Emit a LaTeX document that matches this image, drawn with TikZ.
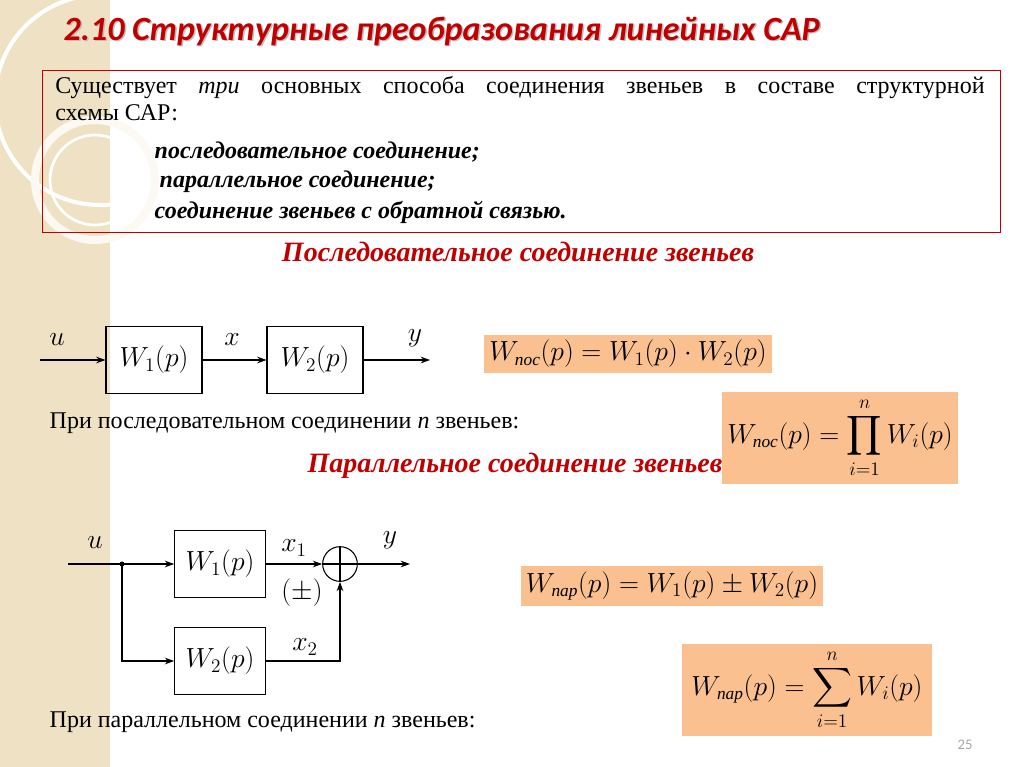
\documentclass[tikz,border=0pt]{standalone}
\usepackage{exscale}
\usepackage{fontspec}
\setmainfont{Liberation Serif}
\newfontfamily\titlefont{Carlito}
\usetikzlibrary{arrows.meta}
\definecolor{tred}{HTML}{C00000}
\definecolor{beige}{HTML}{EFE2C4}
\definecolor{formbg}{HTML}{FAC090}
\newcommand{\sub}[1]{\mbox{\fontsize{13}{13}\selectfont\itshape #1}}
\begin{document}
\begin{tikzpicture}[x=0.75pt,y=-0.75pt,
  blk/.style={draw,thick,minimum width=72pt,minimum height=50pt,inner sep=0pt,font=\fontsize{20.5}{20.5}\selectfont},
  form/.style={fill=formbg,inner sep=4pt,font=\fontsize{19.5}{19.5}\selectfont},
  lab/.style={font=\fontsize{20}{20}\selectfont\itshape},
  body/.style={font=\fontsize{18}{20}\selectfont,anchor=west},
  head/.style={font=\fontsize{21}{21}\selectfont\bfseries\itshape,text=tred},
  arr/.style={-{Stealth[length=7pt,width=5pt]},thick}]
\useasboundingbox (0,0) rectangle (1024,767);
% background strip
\fill[beige] (0,0) rectangle (110,767);
\draw[white,line width=3pt] (100,100) circle (105);
\draw[white!80!beige,line width=6pt] (95,180) circle (60);
\draw[white,line width=2pt] (95,180) circle (45);
% title
\node[anchor=west,font=\titlefont\fontsize{25.5}{25.5}\selectfont\bfseries\itshape,text=black!25] (ts) at (60.5,32.5) {2.10 Структурные преобразования линейных САР};
\node[anchor=west,font=\titlefont\fontsize{25.5}{25.5}\selectfont\bfseries\itshape,text=tred] (t) at (59,31) {2.10 Структурные преобразования линейных САР};
% red box
\draw[tred] (42,70) rectangle (1000,232);
\node[body,anchor=north west,text width=697pt,align=justify,inner sep=0pt] (p1) at (55,76) {Существует \textit{три} основных способа соединения звеньев в составе структурной\linebreak схемы САР:};
\node[body,font=\fontsize{18}{20}\selectfont\bfseries\itshape] (l1) at (150,152) {последовательное соединение;};
\node[body,font=\fontsize{18}{20}\selectfont\bfseries\itshape] (l2) at (155,182) {параллельное соединение;};
\node[body,font=\fontsize{18}{20}\selectfont\bfseries\itshape] (l3) at (150,212) {соединение звеньев с обратной связью.};
\node[head] (h1) at (518,252) {Последовательное соединение звеньев};
% series diagram
\node[blk] (a1) at (154,360) {$W_1(p)$};
\node[blk] (a2) at (315,360) {$W_2(p)$};
\coordinate (ain) at (40,360);
\coordinate (aout) at (430,360);
\draw[arr] (ain) -- (a1);
\draw[arr] (a1) -- (a2);
\draw[arr] (a2) -- (aout);
\node[lab] (u1) at (57,340) {$u$};
\node[lab] (x1) at (232,340) {$x$};
\node[lab] (y1) at (415,338) {$y$};
\node[form] (f1) at (628,354) {$W_{\sub{пос}}(p)=W_1(p)\cdot W_2(p)$};
\node[body] (t1) at (45,423) {При последовательном соединении \textit{n} звеньев:};
\node[form,minimum height=66pt,minimum width=170pt] (f2) at (840,438) {$\displaystyle W_{\sub{пос}}(p)=\prod_{i=1}^{n}W_i(p)$};
\node[head] (h2) at (515,466) {Параллельное соединение звеньев};
% parallel diagram
\node[blk,minimum width=68pt] (b1) at (220,564) {$W_1(p)$};
\node[blk,minimum width=68pt] (b2) at (220,661) {$W_2(p)$};
\node[draw,thick,circle,minimum size=26pt,inner sep=0pt] (s) at (340,564) {};
\draw[thick] (s.north) -- (s.south) (s.west) -- (s.east);
\coordinate (bin) at (68,564);
\coordinate (j) at (122,564);
\coordinate (bout) at (410,564);
\fill (j) circle (2.5);
\draw[thick] (bin) -- (j);
\draw[arr] (j) -- (b1);
\draw[arr] (j) |- (b2);
\draw[arr] (b1) -- (s);
\draw[arr] (b2.east) -| (s.south);
\draw[arr] (s) -- (bout);
\node[lab] (u2) at (95,543) {$u$};
\node[lab] (xx1) at (294,548) {$x_1$};
\node[lab] (pm) at (302,593) {$(\pm)$};
\node[lab] (xx2) at (305,647) {$x_2$};
\node[lab] (y2) at (390,540) {$y$};
\node[form] (f3) at (672,586) {$W_{\sub{пар}}(p)=W_1(p)\pm W_2(p)$};
\node[form,minimum height=66pt,minimum width=187pt] (f4) at (807,690) {$\displaystyle W_{\sub{пар}}(p)=\sum_{i=1}^{n}W_i(p)$};
\node[body] (t2) at (45,722) {При параллельном соединении \textit{n} звеньев:};
\node[font=\titlefont\fontsize{11}{11}\selectfont,text=black!35] (pg) at (965,745) {25};
\end{tikzpicture}
\end{document}
